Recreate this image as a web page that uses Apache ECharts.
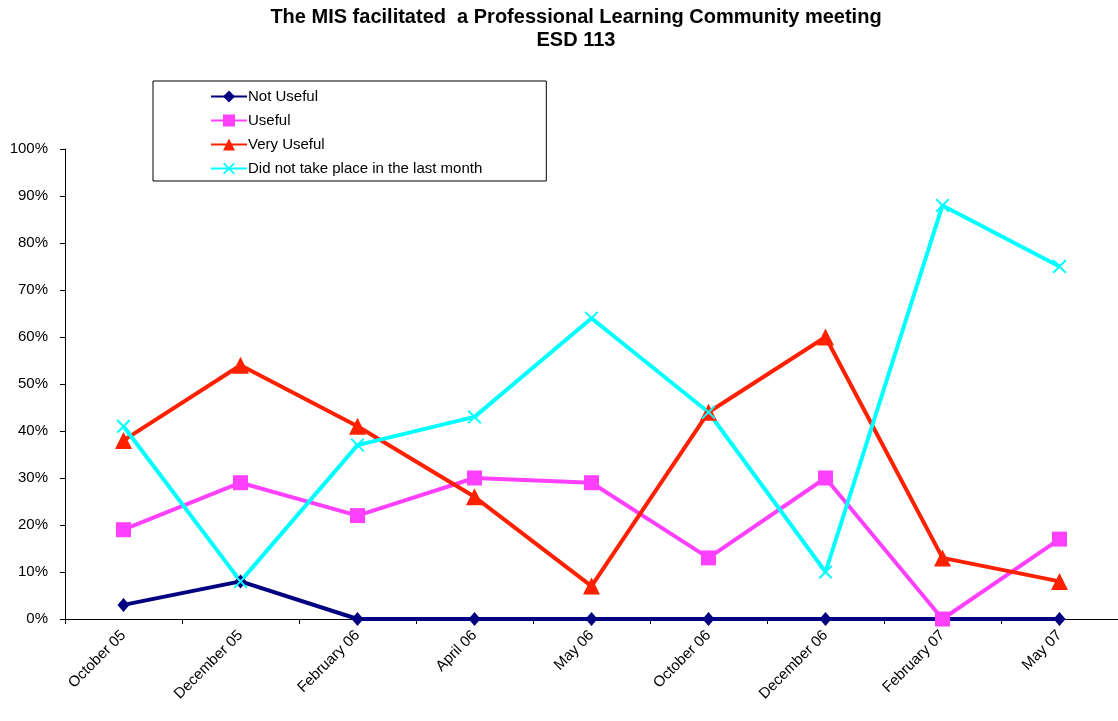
<!DOCTYPE html>
<html><head><meta charset="utf-8">
<script src="https://cdn.jsdelivr.net/npm/echarts@6/dist/echarts.min.js"></script>
<style>html,body{margin:0;padding:0;background:#fff}#c{width:1118px;height:721px}</style>
</head><body><div id="c"></div>
<script>
const categories = ['October 05','December 05','February 06','April 06','May 06','October 06','December 06','February 07','May 07'];
const notUseful = [0.03,0.08,0,0,0,0,0,0,0];
const useful = [0.19,0.29,0.22,0.30,0.29,0.13,0.30,0,0.17];
const veryUseful = [0.38,0.54,0.41,0.26,0.07,0.44,0.60,0.13,0.08];
const didNotTakePlace = [0.41,0.08,0.37,0.43,0.64,0.44,0.10,0.88,0.75];
const seriesNames = ['Not Useful','Useful','Very Useful','Did not take place in the last month'];

const xPath = 'path://M0,1L1,0L5,4L9,0L10,1L6,5L10,9L9,10L5,6L1,10L0,9L4,5Z';
const font = 'Liberation Sans, Arial, sans-serif';
const chart = echarts.init(document.getElementById('c'));
function mk(name, data, color, symbol, size){
  return {name, type:'line', data, symbol, symbolSize:size, showSymbol:true,
    lineStyle:{color, width:4}, itemStyle:{color}, z: 2, animation:false};
}
chart.setOption({
  animation:false,
  title:{text:'The MIS facilitated  a Professional Learning Community meeting\nESD 113', left:571, textAlign:'center', top:1,
    textStyle:{fontFamily:font, fontSize:20, fontWeight:'bold', color:'#000', lineHeight:23}},
  legend:{orient:'vertical', left:153, top:81, padding:[8,64,5,57], itemGap:9, itemWidth:36, itemHeight:15,
    borderColor:'#000', borderWidth:1, backgroundColor:'#fff',
    textStyle:{fontFamily:font, fontSize:15, color:'#000', padding:[0,0,0,-4]},
    data:seriesNames},
  grid:{left:65, right:0, top:149, bottom:102, containLabel:false},
  xAxis:{type:'category', data:categories, boundaryGap:true,
    axisLine:{lineStyle:{color:'#000', width:1}},
    axisTick:{show:true, inside:false, length:5, lineStyle:{color:'#000'}},
    axisLabel:{rotate:45, fontFamily:font, fontSize:15, color:'#000', margin:14, interval:0}},
  yAxis:{type:'value', min:0, max:1, interval:0.1,
    axisLine:{show:true, lineStyle:{color:'#000', width:1}},
    axisTick:{show:true, inside:false, length:5, lineStyle:{color:'#000'}},
    splitLine:{show:false},
    axisLabel:{fontFamily:font, fontSize:15, color:'#000', margin:17, formatter:v=>Math.round(v*100)+'%'}},
  series:[
    mk(seriesNames[0], notUseful, '#000080', 'diamond', [12,14]),
    mk(seriesNames[1], useful, '#FF40FF', 'rect', 15),
    mk(seriesNames[2], veryUseful, '#FF2000', 'triangle', 17),
    mk(seriesNames[3], didNotTakePlace, '#00FFFF', xPath, 14)
  ]
});
</script></body></html>
